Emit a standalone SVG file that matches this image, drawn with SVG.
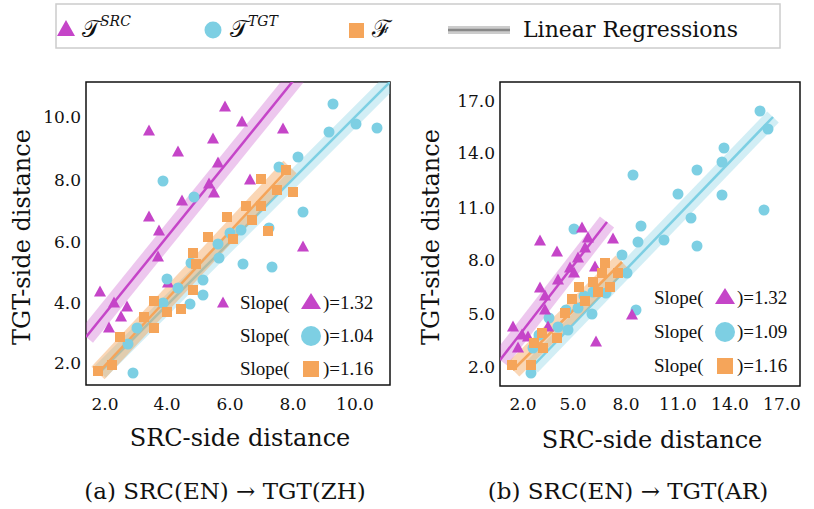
<svg xmlns="http://www.w3.org/2000/svg" width="814" height="509" viewBox="0 0 814 509">
<defs>
<style>
.t{font-family:"DejaVu Serif",serif;fill:#111}
.s{font-family:"Liberation Serif",serif;font-size:19px;fill:#111}
.m{fill:#c545c8}.c{fill:#7dcfe3}.o{fill:#f5a55a}
.frame{fill:#fff;stroke:#111;stroke-width:1.5}
</style>
<path id="tri" d="M0,-6.5 L6,4.5 L-6,4.5Z"/>
<circle id="cir" r="5.5"/>
<rect id="sq" x="-5" y="-5" width="10" height="10"/>
<path id="btri" d="M0,-9 L10,7 L-10,7Z"/>
<circle id="bcir" r="10"/>
<rect id="bsq" x="-8" y="-8" width="16" height="16"/>
</defs>
<rect width="814" height="509" fill="#fff"/>
<g id="legend">
<rect x="56" y="4" width="724" height="44" fill="#fff" stroke="#ccc" stroke-width="1.5"/>
<path d="M66,20 L75,36 L57,36Z" class="m"/>
<text x="82" y="37" class="t" font-size="24">𝒯<tspan font-size="14" dy="-11" font-style="italic">SRC</tspan></text>
<circle cx="213" cy="30" r="8.5" class="c"/>
<text x="230" y="37" class="t" font-size="24">𝒯<tspan font-size="14" dy="-11" font-style="italic">TGT</tspan></text>
<rect x="349" y="23" width="15" height="15" class="o"/>
<text x="372" y="37" class="t" font-size="24">ℱ</text>
<rect x="448" y="26" width="62" height="8" fill="#ccc"/>
<line x1="448" y1="30" x2="510" y2="30" stroke="#888" stroke-width="2.5"/>
<text x="523" y="37" class="t" font-size="22">Linear Regressions</text>
</g>
<g id="plotA">
<rect x="86" y="82" width="304" height="303" class="frame"/>
<g clip-path="url(#ca)">
<clipPath id="ca"><rect x="86" y="82" width="304" height="303"/></clipPath>
<line x1="86" y1="337" x2="310" y2="60" stroke="#c545c8" stroke-opacity="0.3" stroke-width="18"/>
<line x1="86" y1="337" x2="310" y2="60" stroke="#c545c8" stroke-width="2.5"/>
<line x1="100" y1="372" x2="400" y2="72" stroke="#7dcfe3" stroke-opacity="0.35" stroke-width="16"/>
<line x1="100" y1="372" x2="400" y2="72" stroke="#7dcfe3" stroke-width="2.5"/>
<line x1="98" y1="373" x2="290" y2="167" stroke="#f5a55a" stroke-opacity="0.45" stroke-width="18"/>
<line x1="98" y1="373" x2="290" y2="167" stroke="#f5a55a" stroke-width="2.5"/>
<g class="m">
<use href="#tri" x="225" y="107"/><use href="#tri" x="242" y="122"/><use href="#tri" x="149" y="131"/><use href="#tri" x="283" y="129"/><use href="#tri" x="213" y="139"/><use href="#tri" x="178" y="152"/><use href="#tri" x="218" y="163"/><use href="#tri" x="250" y="180"/><use href="#tri" x="209" y="184"/><use href="#tri" x="214" y="193"/><use href="#tri" x="182" y="201"/><use href="#tri" x="149" y="217"/><use href="#tri" x="159" y="231"/><use href="#tri" x="303" y="247"/><use href="#tri" x="158" y="257"/><use href="#tri" x="100" y="292"/><use href="#tri" x="114" y="303"/><use href="#tri" x="127" y="307"/><use href="#tri" x="121" y="317"/><use href="#tri" x="109" y="328"/><use href="#tri" x="223" y="303"/><use href="#tri" x="168" y="283"/>
</g>
<g class="c">
<use href="#cir" x="333" y="104"/><use href="#cir" x="356" y="124"/><use href="#cir" x="377" y="128"/><use href="#cir" x="329" y="132"/><use href="#cir" x="298" y="157"/><use href="#cir" x="279" y="167"/><use href="#cir" x="163" y="181"/><use href="#cir" x="194" y="197"/><use href="#cir" x="303" y="212"/><use href="#cir" x="269" y="228"/><use href="#cir" x="230" y="233"/><use href="#cir" x="241" y="230"/><use href="#cir" x="218" y="244"/><use href="#cir" x="219" y="258"/><use href="#cir" x="191" y="263"/><use href="#cir" x="243" y="264"/><use href="#cir" x="272" y="267"/><use href="#cir" x="167" y="279"/><use href="#cir" x="203" y="280"/><use href="#cir" x="178" y="288"/><use href="#cir" x="203" y="295"/><use href="#cir" x="190" y="304"/><use href="#cir" x="163" y="303"/><use href="#cir" x="137" y="328"/><use href="#cir" x="128" y="344"/><use href="#cir" x="133" y="373"/>
</g>
<g class="o">
<use href="#sq" x="286" y="170"/><use href="#sq" x="261" y="179"/><use href="#sq" x="277" y="190"/><use href="#sq" x="293" y="192"/><use href="#sq" x="246" y="206"/><use href="#sq" x="261" y="206"/><use href="#sq" x="227" y="217"/><use href="#sq" x="252" y="220"/><use href="#sq" x="268" y="231"/><use href="#sq" x="208" y="237"/><use href="#sq" x="233" y="239"/><use href="#sq" x="193" y="253"/><use href="#sq" x="196" y="264"/><use href="#sq" x="193" y="290"/><use href="#sq" x="154" y="301"/><use href="#sq" x="167" y="312"/><use href="#sq" x="181" y="309"/><use href="#sq" x="144" y="317"/><use href="#sq" x="154" y="328"/><use href="#sq" x="120" y="337"/><use href="#sq" x="112" y="365"/><use href="#sq" x="98" y="371"/>
</g>
</g>
<text x="240" y="309" class="s">Slope(</text><use href="#btri" x="311" y="302" class="m"/><text x="323" y="309" class="s">)=1.32</text>
<text x="240" y="342" class="s">Slope(</text><use href="#bcir" x="311" y="336" class="c"/><text x="323" y="342" class="s">)=1.04</text>
<text x="240" y="375" class="s">Slope(</text><use href="#bsq" x="311" y="369" class="o"/><text x="323" y="375" class="s">)=1.16</text>
<g class="t" font-size="17" text-anchor="end">
<text x="81" y="123">10.0</text><text x="81" y="186">8.0</text><text x="81" y="248">6.0</text><text x="81" y="309">4.0</text><text x="81" y="369">2.0</text>
</g>
<g class="t" font-size="17" text-anchor="middle">
<text x="105" y="410">2.0</text><text x="167" y="410">4.0</text><text x="230" y="410">6.0</text><text x="293" y="410">8.0</text><text x="355" y="410">10.0</text>
</g>
<text x="240" y="446" class="t" font-size="24" text-anchor="middle">SRC-side distance</text>
<text transform="translate(30,237) rotate(-90)" class="t" font-size="24" text-anchor="middle">TGT-side distance</text>
<text x="225" y="499" class="t" font-size="23" text-anchor="middle">(a) SRC(EN) → TGT(ZH)</text>
</g>
<g id="plotB">
<rect x="500" y="82" width="300" height="304" class="frame"/>
<g clip-path="url(#cb)">
<clipPath id="cb"><rect x="500" y="82" width="300" height="304"/></clipPath>
<line x1="500" y1="360" x2="607" y2="222" stroke="#c545c8" stroke-opacity="0.3" stroke-width="18"/>
<line x1="500" y1="360" x2="607" y2="222" stroke="#c545c8" stroke-width="2.5"/>
<line x1="532" y1="367" x2="773" y2="117" stroke="#7dcfe3" stroke-opacity="0.35" stroke-width="16"/>
<line x1="532" y1="367" x2="773" y2="117" stroke="#7dcfe3" stroke-width="2.5"/>
<line x1="513" y1="370" x2="622" y2="262" stroke="#f5a55a" stroke-opacity="0.45" stroke-width="18"/>
<line x1="513" y1="370" x2="622" y2="262" stroke="#f5a55a" stroke-width="2.5"/>
<g class="c">
<use href="#cir" x="760" y="111"/><use href="#cir" x="768" y="129"/><use href="#cir" x="724" y="148"/><use href="#cir" x="722" y="162"/><use href="#cir" x="697" y="170"/><use href="#cir" x="633" y="175"/><use href="#cir" x="678" y="194"/><use href="#cir" x="722" y="195"/><use href="#cir" x="764" y="210"/><use href="#cir" x="691" y="218"/><use href="#cir" x="641" y="226"/><use href="#cir" x="574" y="229"/><use href="#cir" x="638" y="242"/><use href="#cir" x="664" y="240"/><use href="#cir" x="697" y="246"/><use href="#cir" x="622" y="255"/><use href="#cir" x="627" y="273"/><use href="#cir" x="606" y="293"/><use href="#cir" x="593" y="292"/><use href="#cir" x="584" y="296"/><use href="#cir" x="578" y="308"/><use href="#cir" x="566" y="310"/><use href="#cir" x="592" y="314"/><use href="#cir" x="636" y="310"/><use href="#cir" x="549" y="318"/><use href="#cir" x="558" y="327"/><use href="#cir" x="568" y="330"/><use href="#cir" x="539" y="335"/><use href="#cir" x="533" y="348"/><use href="#cir" x="531" y="373"/>
</g>
<g class="m">
<use href="#tri" x="582" y="228"/><use href="#tri" x="540" y="241"/><use href="#tri" x="557" y="252"/><use href="#tri" x="613" y="239"/><use href="#tri" x="588" y="238"/><use href="#tri" x="585" y="248"/><use href="#tri" x="578" y="258"/><use href="#tri" x="570" y="268"/><use href="#tri" x="574" y="273"/><use href="#tri" x="558" y="280"/><use href="#tri" x="595" y="267"/><use href="#tri" x="540" y="288"/><use href="#tri" x="545" y="296"/><use href="#tri" x="545" y="310"/><use href="#tri" x="632" y="315"/><use href="#tri" x="548" y="327"/><use href="#tri" x="513" y="327"/><use href="#tri" x="522" y="335"/><use href="#tri" x="528" y="337"/><use href="#tri" x="518" y="348"/><use href="#tri" x="596" y="342"/>
</g>
<g class="o">
<use href="#sq" x="605" y="263"/><use href="#sq" x="602" y="273"/><use href="#sq" x="618" y="273"/><use href="#sq" x="593" y="282"/><use href="#sq" x="579" y="287"/><use href="#sq" x="610" y="287"/><use href="#sq" x="598" y="292"/><use href="#sq" x="572" y="299"/><use href="#sq" x="585" y="301"/><use href="#sq" x="565" y="313"/><use href="#sq" x="557" y="338"/><use href="#sq" x="542" y="333"/><use href="#sq" x="534" y="343"/><use href="#sq" x="543" y="348"/><use href="#sq" x="512" y="365"/><use href="#sq" x="531" y="365"/>
</g>
</g>
<text x="654" y="304" class="s">Slope(</text><use href="#btri" x="725" y="297" class="m"/><text x="737" y="304" class="s">)=1.32</text>
<text x="654" y="338" class="s">Slope(</text><use href="#bcir" x="725" y="332" class="c"/><text x="737" y="338" class="s">)=1.09</text>
<text x="654" y="372" class="s">Slope(</text><use href="#bsq" x="725" y="366" class="o"/><text x="737" y="372" class="s">)=1.16</text>
<g class="t" font-size="17" text-anchor="end">
<text x="495" y="107">17.0</text><text x="495" y="159">14.0</text><text x="495" y="214">11.0</text><text x="495" y="266">8.0</text><text x="495" y="320">5.0</text><text x="495" y="373">2.0</text>
</g>
<g class="t" font-size="17" text-anchor="middle">
<text x="523" y="410">2.0</text><text x="573" y="410">5.0</text><text x="626" y="410">8.0</text><text x="678" y="410">11.0</text><text x="730" y="410">14.0</text><text x="782" y="410">17.0</text>
</g>
<text x="652" y="448" class="t" font-size="24" text-anchor="middle">SRC-side distance</text>
<text transform="translate(439,237) rotate(-90)" class="t" font-size="24" text-anchor="middle">TGT-side distance</text>
<text x="628" y="499" class="t" font-size="23" text-anchor="middle">(b) SRC(EN) → TGT(AR)</text>
</g>
</svg>
